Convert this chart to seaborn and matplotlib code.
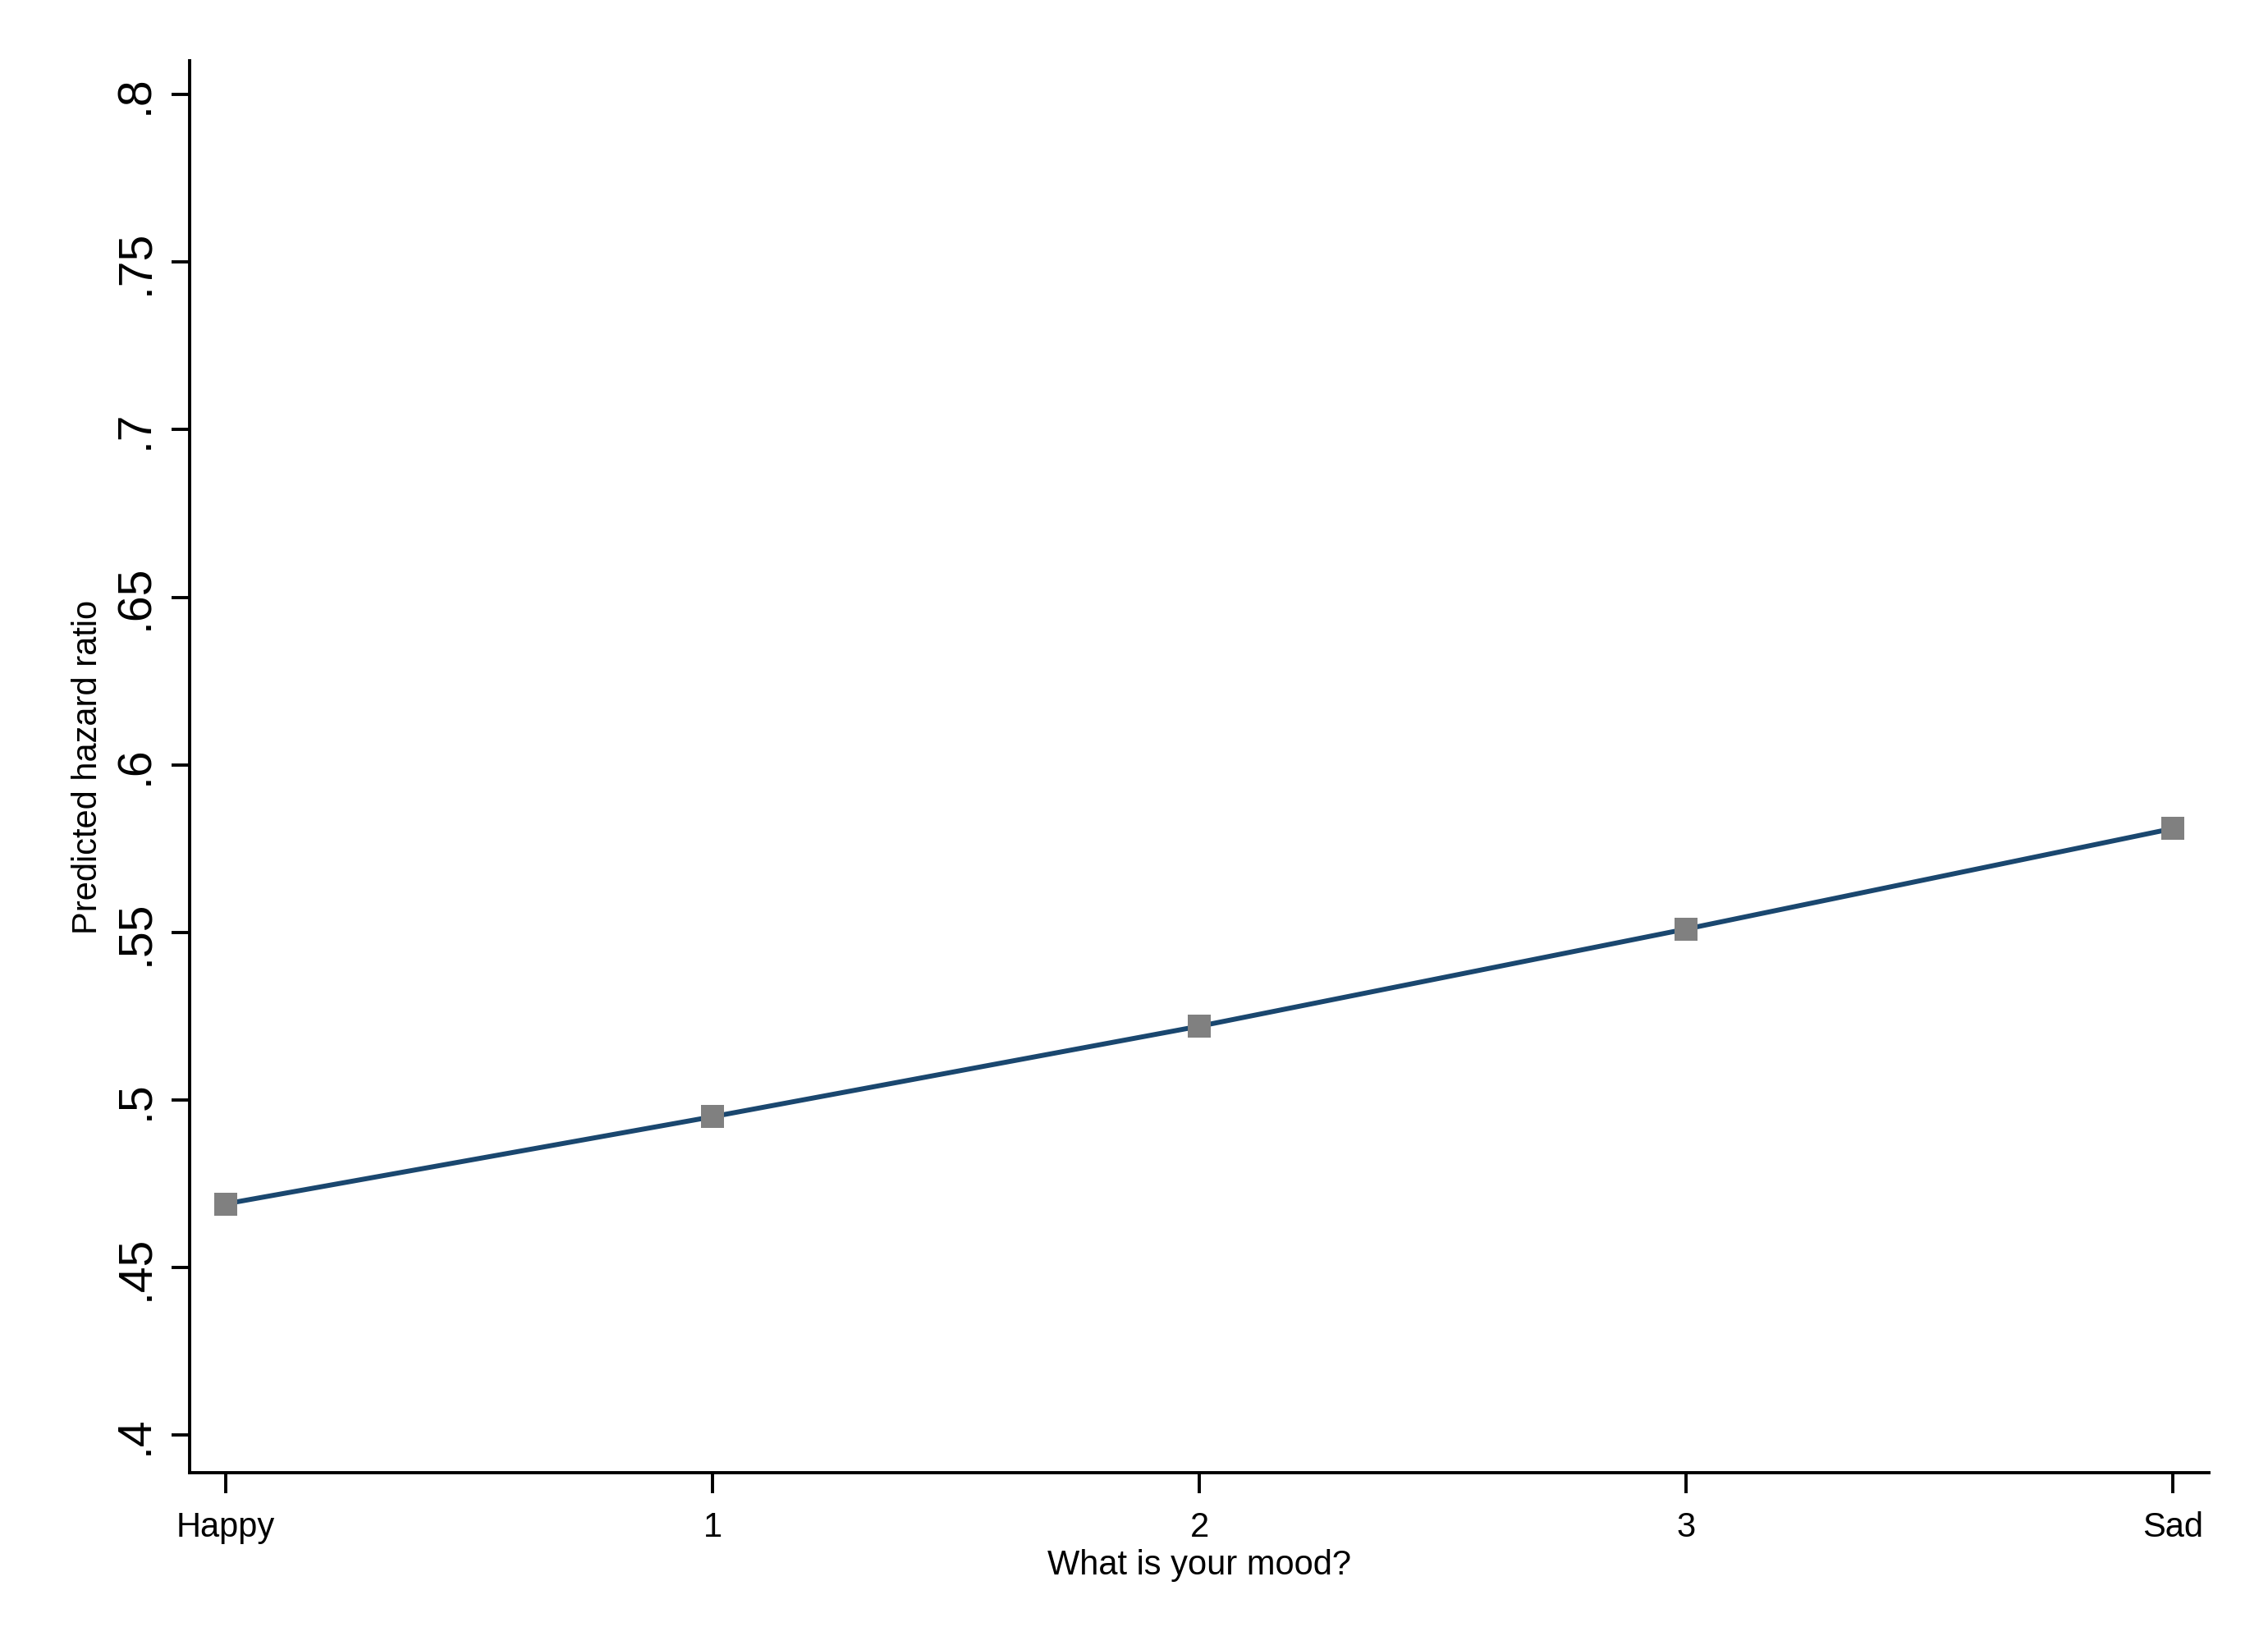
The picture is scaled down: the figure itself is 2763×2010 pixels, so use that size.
import matplotlib
matplotlib.use("Agg")
import matplotlib.pyplot as plt
import seaborn as sns
import pandas as pd

# Data
mood_pos = [0, 1, 2, 3, 4]
mood_labels = ["Happy", "1", "2", "3", "Sad"]
hazard = [0.469, 0.495, 0.522, 0.551, 0.581]
y_ticks = [0.4, 0.45, 0.5, 0.55, 0.6, 0.65, 0.7, 0.75, 0.8]
y_tick_labels = [".4", ".45", ".5", ".55", ".6", ".65", ".7", ".75", ".8"]

df = pd.DataFrame({"mood": mood_pos, "hazard": hazard})

sns.set_style("ticks")
plt.rcParams["font.family"] = ["Liberation Sans", "DejaVu Sans"]
plt.rcParams["text.color"] = "black"
plt.rcParams["axes.labelcolor"] = "black"
plt.rcParams["xtick.color"] = "black"
plt.rcParams["ytick.color"] = "black"

fig = plt.figure(figsize=(27.63, 20.10), dpi=100)
ax = fig.add_axes([0.0836, 0.1075, 0.8904, 0.8555])

sns.lineplot(data=df, x="mood", y="hazard", ax=ax, color="#1a476f",
             linewidth=4.3, marker="s", markersize=20,
             markerfacecolor="#808080", markeredgecolor="#808080",
             markeredgewidth=0)

ax.set_xlim(-0.074, 4.074)
ax.set_ylim(0.3888, 0.810)
ax.set_xticks(mood_pos)
ax.set_xticklabels(mood_labels, fontsize=30)
ax.set_yticks(y_ticks)
ax.set_yticklabels(y_tick_labels, fontsize=41, rotation=90, va="center")

ax.set_xlabel("What is your mood?", fontsize=30, labelpad=4)
ax.set_ylabel("Predicted hazard ratio", fontsize=30, labelpad=8)

for side in ["top", "right"]:
    ax.spines[side].set_visible(False)
for side in ["left", "bottom"]:
    ax.spines[side].set_linewidth(2.8)
    ax.spines[side].set_color("black")

ax.tick_params(axis="y", direction="out", length=16, width=2.8, pad=12)
ax.tick_params(axis="x", direction="out", length=18, width=2.8, pad=16)
ax.grid(False)

fig.savefig("out.png", dpi=100, facecolor="white")
